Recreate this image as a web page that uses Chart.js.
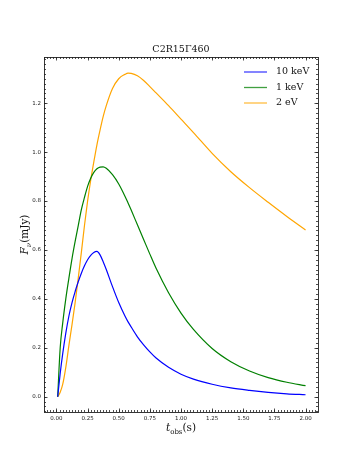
<!DOCTYPE html>
<html>
<head>
<meta charset="utf-8">
<script src="https://cdn.jsdelivr.net/npm/chart.js@4"></script>
<style>
html,body{margin:0;padding:0;background:#fff;}
#wrap{width:354px;height:472px;position:relative;}
</style>
</head>
<body>
<div id="wrap"><canvas id="c" width="354" height="472"></canvas></div>
<script>
// ---- data ----
const tObs = [0.01,0.03,0.05,0.075,0.1,0.125,0.15,0.175,0.2,0.225,0.25,0.275,0.3,0.325,0.35,0.375,0.4,0.45,0.5,0.55,0.575,0.6,0.65,0.7,0.75,0.8,0.9,1.0,1.1,1.25,1.4,1.55,1.7,1.85,2.0];
const flux10keV = [0.0,0.095,0.175,0.26,0.33,0.385,0.43,0.47,0.505,0.535,0.56,0.578,0.59,0.594,0.58,0.552,0.52,0.45,0.385,0.33,0.306,0.285,0.245,0.212,0.183,0.158,0.12,0.092,0.072,0.051,0.036,0.026,0.018,0.012,0.008];
const flux1keV = [0.0,0.2,0.3,0.40,0.485,0.565,0.635,0.70,0.765,0.815,0.86,0.893,0.917,0.932,0.939,0.94,0.934,0.908,0.87,0.82,0.792,0.763,0.703,0.643,0.583,0.525,0.425,0.342,0.275,0.197,0.143,0.105,0.078,0.059,0.045];
const flux2eV = [0.0,0.018,0.05,0.12,0.21,0.295,0.385,0.485,0.59,0.70,0.80,0.885,0.96,1.03,1.09,1.145,1.19,1.26,1.30,1.318,1.323,1.322,1.312,1.293,1.268,1.242,1.19,1.135,1.08,0.995,0.92,0.855,0.795,0.737,0.682];
const seriesLabels = ['10 keV','1 keV','2 eV'];
const seriesColors = ['#0000ff','#008000','#ffa500'];
const xTickValues = [0,0.25,0.5,0.75,1.0,1.25,1.5,1.75,2.0];
const yTickValues = [0,0.2,0.4,0.6,0.8,1.0,1.2];
const chartTitle = 'C2R15\u0393460';

const allSeries = [flux10keV, flux1keV, flux2eV];
const datasets = allSeries.map((vals,i)=>({
  label: seriesLabels[i],
  data: tObs.map((t,j)=>({x:t,y:vals[j]})),
  borderColor: seriesColors[i],
  backgroundColor: seriesColors[i],
  borderWidth: 1.2,
  pointRadius: 0,
  cubicInterpolationMode: 'monotone',
  fill: false
}));

const serif = '"DejaVu Serif", serif';
const decor = {
  id:'decor',
  afterDatasetsDraw(chart){
    const ctx = chart.ctx, a = chart.chartArea;
    const xs = chart.scales.x, ys = chart.scales.y;
    ctx.save();
    ctx.strokeStyle = '#222';
    ctx.lineWidth = 0.8;
    // minor ticks
    ctx.beginPath();
    for(let k=-4;k<=84;k++){
      const v = k*0.025; const px = Math.round(xs.getPixelForValue(v))+0.5;
      if(px<a.left||px>a.right) continue;
      ctx.moveTo(px,a.bottom); ctx.lineTo(px,a.bottom-2);
      ctx.moveTo(px,a.top); ctx.lineTo(px,a.top+2);
    }
    for(let k=-3;k<=70;k++){
      const v = k*0.02; const py = Math.round(ys.getPixelForValue(v))+0.5;
      if(py<a.top||py>a.bottom) continue;
      ctx.moveTo(a.left,py); ctx.lineTo(a.left+2,py);
      ctx.moveTo(a.right,py); ctx.lineTo(a.right-2,py);
    }
    ctx.stroke();
    // major ticks
    ctx.beginPath();
    xTickValues.forEach(v=>{const px=Math.round(xs.getPixelForValue(v))+0.5;
      ctx.moveTo(px,a.bottom);ctx.lineTo(px,a.bottom-3.5);ctx.moveTo(px,a.top);ctx.lineTo(px,a.top+3.5);});
    yTickValues.forEach(v=>{const py=Math.round(ys.getPixelForValue(v))+0.5;
      ctx.moveTo(a.left,py);ctx.lineTo(a.left+3.5,py);ctx.moveTo(a.right,py);ctx.lineTo(a.right-3.5,py);});
    ctx.stroke();
    // frame
    ctx.lineWidth = 0.9;
    ctx.strokeRect(Math.round(a.left)+0.5, Math.round(a.top)+0.5, Math.round(a.right-a.left), Math.round(a.bottom-a.top));
    // legend
    ctx.font = '9.5px '+serif;
    ctx.textBaseline = 'middle';
    chart.data.datasets.forEach((ds,i)=>{
      const y = 72 + i*15.5;
      ctx.strokeStyle = ds.borderColor; ctx.globalAlpha = 0.75; ctx.lineWidth = 1.3;
      ctx.beginPath(); ctx.moveTo(244,y); ctx.lineTo(267,y); ctx.stroke();
      ctx.globalAlpha = 1; ctx.fillStyle = '#111';
      ctx.fillText(ds.label, 276, y);
    });
    // title
    ctx.fillStyle = '#111';
    ctx.font = '9.5px '+serif;
    ctx.textAlign = 'center'; ctx.textBaseline = 'alphabetic';
    ctx.fillText(chartTitle, (a.left+a.right)/2, 52);
    // x-axis title: t_obs(s)
    const cx = (a.left+a.right)/2, by = 431;
    ctx.textAlign = 'left';
    const p1 = 't', p2 = 'obs', p3 = '(s)';
    ctx.font = 'italic 10.5px '+serif; const w1 = ctx.measureText(p1).width;
    ctx.font = '7px '+serif; const w2 = ctx.measureText(p2).width;
    ctx.font = '10.5px '+serif; const w3 = ctx.measureText(p3).width;
    let sx = cx - (w1+w2+w3)/2;
    ctx.font = 'italic 10.5px '+serif; ctx.fillText(p1, sx, by); sx+=w1;
    ctx.font = '7px '+serif; ctx.fillText(p2, sx, by+2.5); sx+=w2;
    ctx.font = '10.5px '+serif; ctx.fillText(p3, sx, by);
    // y-axis title: F_nu(mJy)
    ctx.save();
    ctx.translate(28, (a.top+a.bottom)/2);
    ctx.rotate(-Math.PI/2);
    const q1='F', q2='\u03bd', q3='(mJy)';
    ctx.font = 'italic 10.5px '+serif; const v1 = ctx.measureText(q1).width;
    ctx.font = 'italic 7px '+serif; const v2 = ctx.measureText(q2).width;
    ctx.font = '10.5px '+serif; const v3 = ctx.measureText(q3).width;
    let sy = -(v1+v2+v3)/2;
    ctx.font = 'italic 10.5px '+serif; ctx.fillText(q1, sy, 0); sy+=v1;
    ctx.font = 'italic 7px '+serif; ctx.fillText(q2, sy, 2.5); sy+=v2;
    ctx.font = '10.5px '+serif; ctx.fillText(q3, sy, 0);
    ctx.restore();
    ctx.restore();
  }
};

const tickFont = {family:'"DejaVu Sans", sans-serif', size:5.5};
new Chart(document.getElementById('c'), {
  type:'line',
  data:{datasets},
  options:{
    responsive:false,
    animation:false,
    devicePixelRatio:1,
    layout:{padding:{left:0,top:57,right:36,bottom:0}},
    plugins:{legend:{display:false}, title:{display:false}, tooltip:{enabled:false}},
    scales:{
      x:{type:'linear', min:-0.1, max:2.1,
        grid:{display:false, drawTicks:false}, border:{display:false},
        afterBuildTicks:(s)=>{s.ticks = xTickValues.map(v=>({value:v}));},
        afterFit:(s)=>{s.height = 60;},
        ticks:{font:tickFont, color:'#222', padding:3, maxRotation:0, autoSkip:false,
          callback:(v)=>Number(v).toFixed(2)}},
      y:{type:'linear', min:-0.0625, max:1.389,
        grid:{display:false, drawTicks:false}, border:{display:false},
        afterBuildTicks:(s)=>{s.ticks = yTickValues.map(v=>({value:v}));},
        afterFit:(s)=>{s.width = 44;},
        ticks:{font:tickFont, color:'#222', padding:3, autoSkip:false,
          callback:(v)=>Number(v).toFixed(1)}}
    }
  },
  plugins:[decor]
});
</script>
</body>
</html>
